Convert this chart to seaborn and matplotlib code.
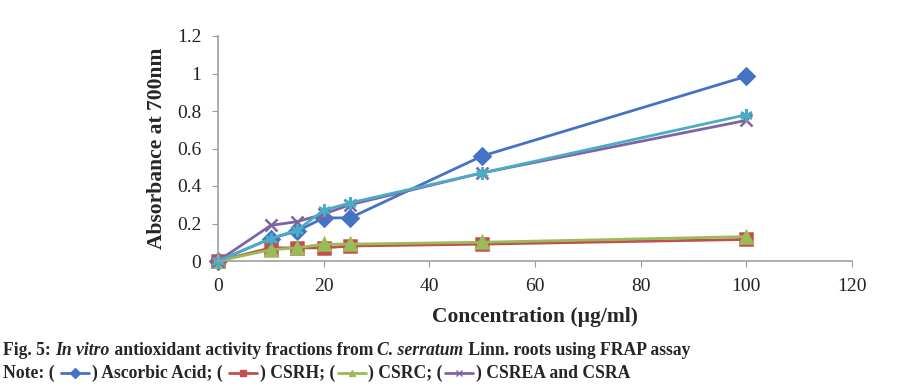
import pandas as pd
import seaborn as sns
import matplotlib.pyplot as plt
from matplotlib.lines import Line2D

# concentrations (ug/ml) and absorbance
conc = [0, 10, 15, 20, 25, 50, 100]
ascorbic = [0.0, 0.12, 0.16, 0.23, 0.23, 0.56, 0.985]
csrh = [0.0, 0.07, 0.07, 0.07, 0.08, 0.09, 0.115]
csrc = [0.0, 0.06, 0.07, 0.09, 0.09, 0.10, 0.13]
csrea = [0.0, 0.19, 0.21, 0.25, 0.30, 0.47, 0.75]
csra = [0.0, 0.12, 0.165, 0.27, 0.31, 0.47, 0.78]

series = ["Ascorbic Acid", "CSRH", "CSRC", "CSREA", "CSRA"]
colors = ["#4472C4", "#C0504D", "#9BBB59", "#8064A2", "#4BACC6"]
marks = ["D", "s", "^", "x", (6, 2, 0)]

rows = []
for name, vals in zip(series, [ascorbic, csrh, csrc, csrea, csra]):
    for c, v in zip(conc, vals):
        rows.append({"conc": c, "abs": v, "fraction": name})
df = pd.DataFrame(rows)

sns.set_style("white")
plt.rcParams["font.family"] = ["Liberation Serif", "DejaVu Serif"]

fig = plt.figure(figsize=(9.01, 3.88), dpi=100)
ax = fig.add_axes([218 / 901, 1 - 261 / 388, (852 - 218) / 901, (261 - 36) / 388])

for name, col, mk in zip(series, colors, marks):
    sub = df[df["fraction"] == name]
    sns.lineplot(data=sub, x="conc", y="abs", color=col, marker=mk,
                 linewidth=2.0, markersize=9 if name == "CSRA" else 8,
                 markeredgewidth=1.8, markeredgecolor=col, ax=ax, clip_on=False)

ax.set_xlim(0, 120)
ax.set_ylim(0, 1.2)
ax.set_xticks([0, 20, 40, 60, 80, 100, 120])
ax.set_yticks([0, 0.2, 0.4, 0.6, 0.8, 1.0, 1.2])
ax.set_yticklabels(["0", "0.2", "0.4", "0.6", "0.8", "1", "1.2"])
ax.tick_params(axis="both", labelsize=14, length=4, direction="out",
               color="#999999", bottom=True, left=True, pad=8, labelcolor="#222222")
for side in ["top", "right"]:
    ax.spines[side].set_visible(False)
for side in ["left", "bottom"]:
    ax.spines[side].set_color("#A0A0A0")
    ax.spines[side].set_linewidth(1.2)
ax.set_xlabel("Concentration (µg/ml)", fontsize=15.5, fontweight="bold", labelpad=9)
ax.set_ylabel("Absorbance at 700nm", fontsize=15.5, fontweight="bold", labelpad=7)

# caption with mixed styles, placed piece by piece
fig.canvas.draw()
renderer = fig.canvas.get_renderer()


def write(pieces, x, y):
    for txt, style in pieces:
        if txt == "#LINE":
            col, mk = style
            x0 = (x + 2) / 901
            yy = 1 - (y - 5) / 388
            fig.add_artist(Line2D([x0, x0 + 28 / 901], [yy, yy], color=col,
                                  lw=2, transform=fig.transFigure))
            fig.add_artist(Line2D([x0 + 14 / 901], [yy], color=col,
                                  marker=mk, markersize=5, markeredgecolor=col,
                                  transform=fig.transFigure))
            x += 33
            continue
        t = fig.text(x / 901, 1 - y / 388, txt, fontsize=12.7, fontweight="bold",
                     fontstyle=style, va="baseline", ha="left")
        bb = t.get_window_extent(renderer)
        x += bb.width


write([("Fig. 5: ", "normal"), ("In vitro", "italic"),
       (" antioxidant activity fractions from ", "normal"),
       ("C. serratum", "italic"), (" Linn. roots using FRAP assay", "normal")], 3, 355)
write([("Note: ( ", "normal"), ("#LINE", (colors[0], "D")), (") Ascorbic Acid; ( ", "normal"),
       ("#LINE", (colors[1], "s")), (") CSRH; (", "normal"),
       ("#LINE", (colors[2], "^")), (") CSRC; (", "normal"),
       ("#LINE", (colors[3], "x")), (") CSREA and CSRA", "normal")], 3, 378)

fig.savefig("out.png", dpi=100)
